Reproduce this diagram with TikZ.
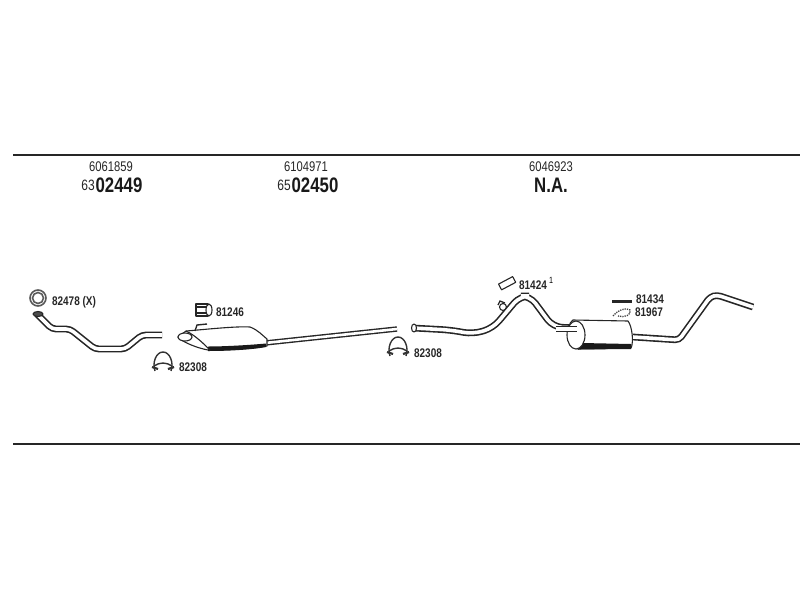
\documentclass[tikz,border=0pt]{standalone}
\usepackage{fontspec}
\setmainfont{Liberation Sans}
\newfontfamily\narrowfont[FakeStretch=0.8]{Liberation Sans}
\usetikzlibrary{positioning}
\begin{document}
\begin{tikzpicture}[x=1pt, y=-1pt,
  rule/.style = {line width=1.5pt, black!85},
  pipe/.style = {double=white, double distance=3.6pt, line width=1.6pt, black!85, rounded corners=4pt},
  thin pipe/.style = {double=white, double distance=2.6pt, line width=1.4pt, black!85},
  shell/.style = {draw=black!85, line width=1.1pt, fill=white, line join=round},
  darkside/.style = {fill=black!90, draw=none},
  ring/.style = {draw=black!65, line width=1.6pt, fill=white, circle, inner sep=0pt},
  code/.style = {font=\narrowfont\fontsize{12.5}{12.5}\selectfont\bfseries, black!85, inner sep=0pt},
  oem/.style = {font=\narrowfont\fontsize{14}{14}\selectfont, black!85, inner sep=0pt},
  part/.style = {font=\narrowfont\fontsize{21}{21}\selectfont\bfseries, black!90, inner sep=0pt},
  lead/.style = {font=\narrowfont\fontsize{15}{15}\selectfont, black!85, inner sep=0pt}]
\useasboundingbox (0,0) rectangle (800,600);

% frame lines
\draw[rule] (13,155) -- (800,155);
\draw[rule] (13,444) -- (800,444);

% headings
\node[oem] (oem1) at (111,167) {6061859};
\node[oem] (oem2) at (306,167) {6104971};
\node[oem] (oem3) at (551,167) {6046923};
\node[part] (part1) at (119,185) {02449};
\node[lead, left=0.5pt of part1] (pre1) {63};
\node[part] (part2) at (315,185) {02450};
\node[lead, left=0.5pt of part2] (pre2) {65};
\node[part] (part3) at (551,185) {N.A.};

% front pipe
\draw[pipe] (37,314) -- (52,329) -- (70,329) -- (95,349) -- (125,349) -- (142,335) -- (162,335);
\draw[shell, fill=black!70] (38,314) ellipse (5pt and 2.5pt);
\node[ring, minimum size=16pt] (gasket) at (38,298) {};
\node[ring, minimum size=11pt] (gasket in) at (38,298) {};

% middle muffler
\draw[thin pipe] (265,343) -- (397,329);
\draw[shell] (186,331) .. controls (200,330) and (235,326) .. (250,327)
  .. controls (258,330) and (262,335) .. (267,339) -- (267,346)
  .. controls (250,349) and (225,350) .. (208,350)
  .. controls (197,348) and (182,342) .. (178,337) -- cycle;
\fill[darkside] (208,346.5) .. controls (225,346.5) and (250,345) .. (266,343.5) -- (266,347)
  .. controls (250,350) and (225,351) .. (208,351) -- cycle;
\draw[shell] (210,350) .. controls (205,345) and (195,335) .. (186,331);
\draw[shell] (185,337) ellipse (7pt and 4pt);
\draw[black!85, line width=1.4pt] (195,331) -- (197,325) -- (207,324);

% clamps and small parts
\foreach \cx/\cy/\cname in {163/360/a, 398/345/b} {
  \draw[black!80, line width=1.4pt] (\cx-8,\cy+11) .. controls (\cx-11,\cy+3) and (\cx-7,\cy-8) .. (\cx,\cy-8)
    .. controls (\cx+7,\cy-8) and (\cx+11,\cy+3) .. (\cx+8,\cy+11);
  \draw[black!80, line width=1.4pt] (\cx-9,\cy+6) .. controls (\cx-3,\cy+2) and (\cx+3,\cy+2) .. (\cx+9,\cy+6);
  \draw[black!80, line width=2.2pt] (\cx-11,\cy+7) -- (\cx-5,\cy+9);
  \draw[black!80, line width=2.2pt] (\cx+11,\cy+7) -- (\cx+5,\cy+9);
}
\draw[shell] (196,304) rectangle (208,316);
\draw[black!85, line width=1.8pt] (195,307) -- (209,307);
\draw[black!85, line width=1.8pt] (195,313) -- (209,313);
\draw[shell] (209,310) ellipse (3pt and 6pt);
\draw[shell, rotate around={28:(507,283)}] (499,280) rectangle (515,286.5);
\fill[black!85] (612,299.5) rectangle (632,302.5);
\draw[black!75, line width=1.3pt, densely dotted] (613,316) .. controls (618,310) and (626,307) .. (630,310) .. controls (632,315) and (624,318) .. (618,316);

% rear pipe and muffler
\draw[shell] (503,307) circle (3.5pt);
\draw[black!85, line width=1.3pt] (498,305) -- (500,301) -- (505,303);
\draw[pipe, rounded corners=9pt] (413,328) -- (450,330) -- (473,334) -- (493,328) -- (520,296) -- (530,296) -- (553,327) -- (580,328);
\draw[shell] (414,328) ellipse (2.5pt and 4pt);
\draw[pipe] (633,337) -- (679,340) -- (710,297) -- (717,295) -- (753,307);
\draw[shell] (573,320) -- (628,321) .. controls (632,326) and (634,342) .. (631,348)
  -- (578,349) .. controls (568,345) and (565,325) .. cycle;
\fill[darkside] (582,343) -- (631,344) -- (631,349) -- (578,349.5) -- cycle;
\draw[shell] (576,335) ellipse (9pt and 14pt);
\draw[pipe, rounded corners=2pt] (556,329) -- (577,329);

% part numbers
\node[code] (c1) at (74,302) {82478 (X)};
\node[code] (c2) at (230,312) {81246};
\node[code] (c3) at (193,367) {82308};
\node[code] (c4) at (428,353) {82308};
\node[code] (c5) at (533,285) {81424};
\node[font=\narrowfont\fontsize{9}{9}\selectfont, inner sep=0pt] (c5a) at (551,280) {1};
\node[code] (c6) at (650,299) {81434};
\node[code] (c7) at (649,312) {81967};
\end{tikzpicture}
\end{document}
